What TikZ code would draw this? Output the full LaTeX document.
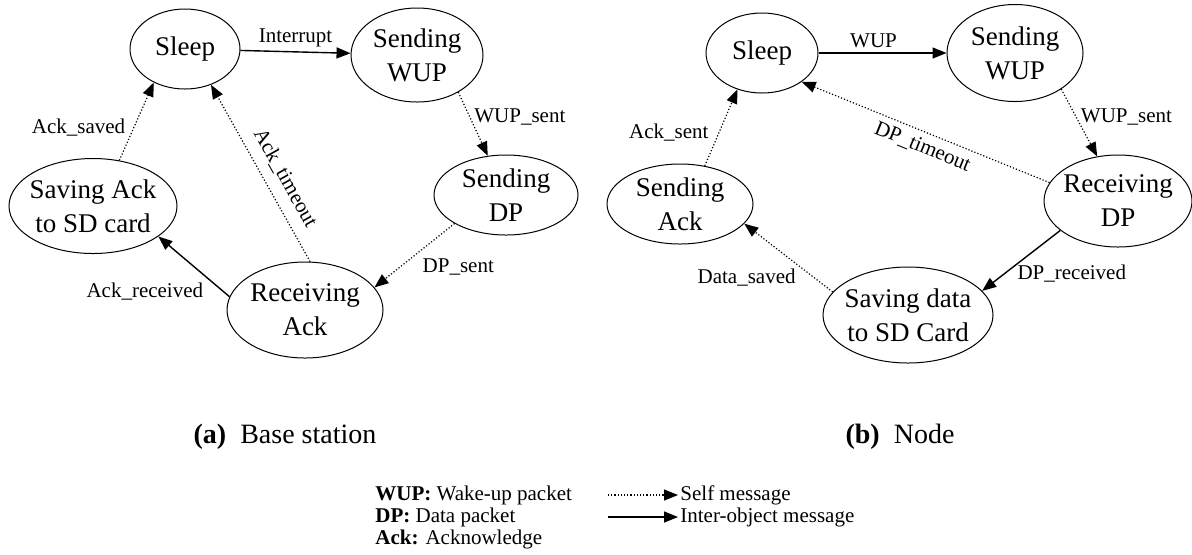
\documentclass[tikz,border=0pt]{standalone}
\usepackage{fontspec}
\setmainfont{Liberation Serif}
\usetikzlibrary{arrows.meta,shapes.geometric}

\begin{document}
\begin{tikzpicture}[
  x=0.5pt, y=-0.5pt,
  state/.style={draw, ellipse, line width=0.5pt, inner xsep=-3pt, inner ysep=0pt, align=center, font=\fontsize{13.5}{17}\selectfont},
  self/.style={-{Triangle[length=7pt,width=5.5pt]}, densely dotted, line width=0.6pt},
  inter/.style={-{Triangle[length=7pt,width=5.5pt]}, line width=0.7pt},
  lbl/.style={font=\fontsize{10.5}{12}\selectfont, inner sep=2pt},
  captxt/.style={font=\fontsize{14}{17}\selectfont}
]
\useasboundingbox (0,0) rectangle (1192,554);

% (a) base station
\node[state, minimum width=55pt, minimum height=40pt] (sleepA) at (185,49) {Sleep};
\node[state, minimum width=66pt, minimum height=47pt] (swupA) at (417,55) {Sending\\WUP};
\node[state, minimum width=72pt, minimum height=40pt] (sdpA) at (506,195) {Sending\\DP};
\node[state, minimum width=78pt, minimum height=48pt] (rackA) at (305,310) {Receiving\\Ack};
\node[state, minimum width=84pt, minimum height=47.5pt] (savA) at (93,206) {Saving Ack\\to SD card};

\draw[inter] (sleepA) -- node[lbl, above] {Interrupt} (swupA);
\draw[self] (swupA.-42) -- node[lbl, pos=0.39, right] {WUP\_sent} (sdpA.115);
\draw[self] (sdpA.209) -- node[lbl, pos=0.68, right=9pt] {DP\_sent} (rackA.18);
\draw[inter] (rackA.170) -- node[lbl, pos=0.08, left=8pt] {Ack\_received} (savA.-25);
\draw[self] (savA.60) -- node[lbl, pos=0.42, left=2pt] {Ack\_saved} (sleepA.227);
\draw[self] (rackA.84) -- node[lbl, pos=0.42, sloped, above=3pt] {Ack\_timeout} (sleepA.-54);

% (b) node
\node[state, minimum width=56pt, minimum height=40pt] (sleepB) at (762,53) {Sleep};
\node[state, minimum width=68pt, minimum height=48.5pt] (swupB) at (1015,53) {Sending\\WUP};
\node[state, minimum width=74pt, minimum height=46pt] (rdpB) at (1118,201) {Receiving\\DP};
\node[state, minimum width=85pt, minimum height=48pt] (savB) at (908,315) {Saving data\\to SD Card};
\node[state, minimum width=73pt, minimum height=40pt] (sackB) at (680,204) {Sending\\Ack};

\draw[inter] (sleepB) -- node[lbl, pos=0.43, above] {WUP} (swupB);
\draw[self] (swupB.-38) -- node[lbl, pos=0.42, right] {WUP\_sent} (rdpB.115);
\draw[self] (rdpB.165) -- node[lbl, pos=0.49, sloped, below=1pt] {DP\_timeout} (sleepB.-36);
\draw[inter] (rdpB.207) -- node[lbl, pos=0.71, right=4pt] {DP\_received} (savB.18);
\draw[self] (savB.163) -- node[lbl, pos=0.21, left=7pt] {Data\_saved} (sackB.-17);
\draw[self] (sackB.57) -- node[lbl, pos=0.44, left=3pt] {Ack\_sent} (sleepB.236);

% captions
\node[captxt] (capA) at (285,437) {\textbf{(a)}\enspace Base station};
\node[captxt] (capB) at (900,437) {\textbf{(b)}\enspace Node};

% legend
\node[lbl, anchor=base west] (lgWup) at (371,500) {\textbf{WUP:} Wake-up packet};
\node[lbl, anchor=base west] (lgDp) at (371,522) {\textbf{DP:} Data packet};
\node[lbl, anchor=base west] (lgAck) at (371,544) {\textbf{Ack:} Acknowledge};
\coordinate (lgS) at (608,495);
\coordinate (lgI) at (608,517);
\node[lbl, anchor=west, inner sep=1pt] (lgSelf) at (678,495) {Self message};
\node[lbl, anchor=west, inner sep=1pt] (lgInter) at (678,517) {Inter-object message};
\draw[self] (lgS) -- (lgSelf.west);
\draw[inter] (lgI) -- (lgInter.west);
\end{tikzpicture}
\end{document}
